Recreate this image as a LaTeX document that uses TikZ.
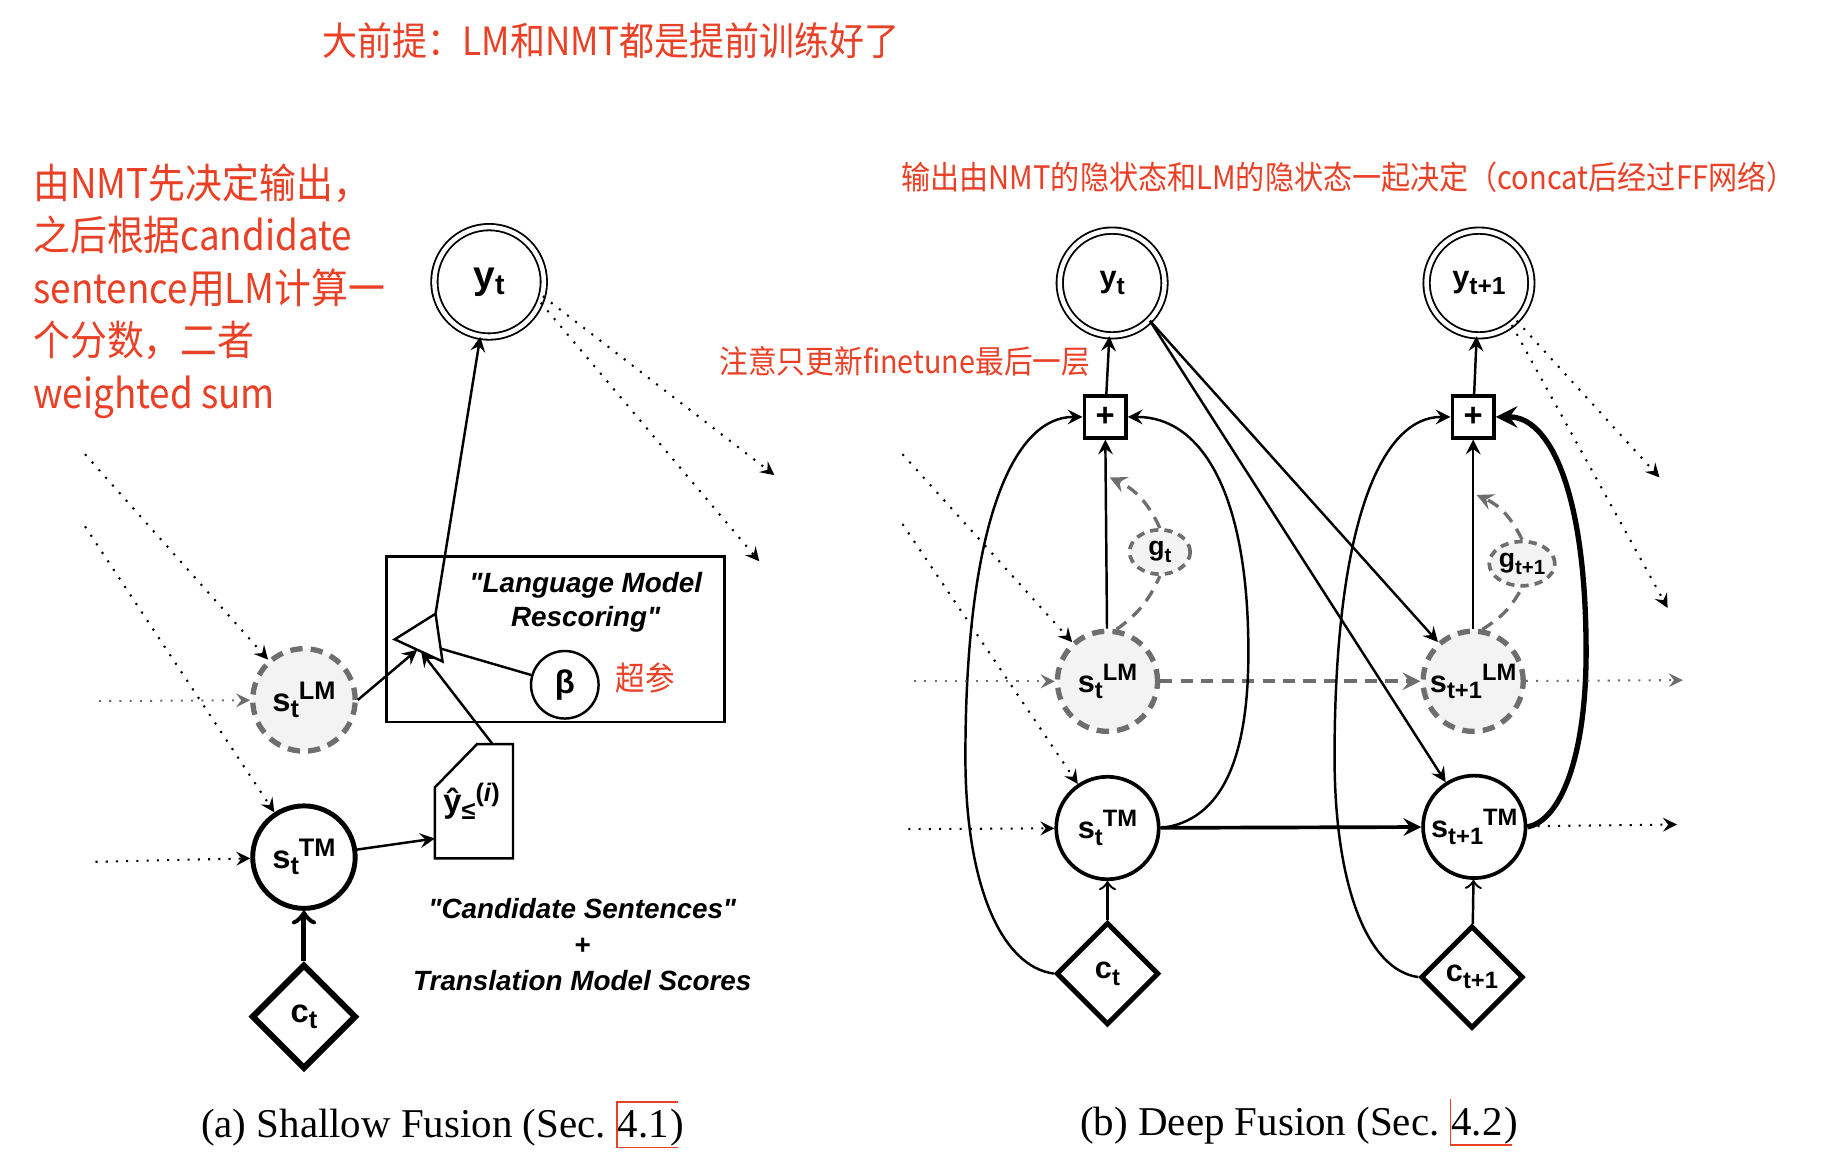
\documentclass[tikz,border=0pt]{standalone}
\usepackage{fontspec}
\setmainfont{Liberation Serif}
\setsansfont{Liberation Sans}
\newfontfamily\cjk[FakeStretch=0.9]{Noto Sans CJK SC}
\usepackage{tikz}
\usetikzlibrary{shapes,calc,positioning,arrows}
\definecolor{notered}{RGB}{233,64,38}
\definecolor{lmgray}{RGB}{110,110,110}
\definecolor{lmfill}{RGB}{243,243,243}
\newcommand{\hid}[4][6.2]{#2\raisebox{-1.6pt}{\fontsize{#1}{#1}\selectfont #3}\raisebox{2.9pt}{\fontsize{#1}{#1}\selectfont #4}}

\begin{document}
\begin{tikzpicture}
     [x=0.1mm, y=-0.1mm, >=stealth,
      every node/.style={font=\sffamily\bfseries\fontsize{8}{8}\selectfont},
      deep/.style={font=\sffamily\bfseries\fontsize{7.5}{7.5}\selectfont},
      outv/.style={circle, draw, double, double distance=1.1pt, line width=0.45pt, minimum size=9.4mm, inner sep=0pt},
      lmv/.style={circle, draw=lmgray, fill=lmfill, line width=1.3pt, dash pattern=on 3pt off 2pt, minimum size=8.6mm, inner sep=0pt},
      tmv/.style={circle, draw, line width=1.2pt, minimum size=8.8mm, inner sep=0pt},
      ctxv/.style={diamond, draw, line width=1.5pt, minimum size=9mm, inner sep=0pt},
      gatev/.style={ellipse, draw=lmgray, fill=lmfill, line width=0.9pt, dash pattern=on 2pt off 1.5pt, minimum width=5.2mm, minimum height=3.8mm, inner sep=0pt, font=\sffamily\bfseries\fontsize{6.5}{6.5}\selectfont},
      sumv/.style={rectangle, draw, line width=0.8pt, minimum size=3.6mm, inner sep=0pt},
      hint/.style={->, dotted, line width=0.5pt},
      lmhint/.style={hint, lmgray},
      lmlink/.style={->, lmgray, line width=0.9pt, dash pattern=on 3pt off 2pt},
      link/.style={->, line width=0.6pt},
      remark/.style={text=notered, inner sep=0pt},
      caption/.style={font=\rmfamily\mdseries\fontsize{10}{12}\selectfont, inner xsep=0pt, inner ysep=0.2em, anchor=base west},
      boldit/.style={font=\sffamily\bfseries\itshape\fontsize{6.8}{8.3}\selectfont, align=center}]
   \path[fill=white, use as bounding box] (0,0) rectangle (1568,1008);

   \node (premise) [remark, font=\cjk\fontsize{9.5}{9.5}\selectfont] at (525,35) {大前提：LM和NMT都是提前训练好了};
   \node (noteA) [remark, font=\cjk\fontsize{10}{12.8}\selectfont, align=left, anchor=north west] at (28,140)
     {由NMT先决定输出，\\之后根据candidate\\sentence用LM计算一\\个分数，二者\\weighted sum};
   \node (noteB) [remark, font=\cjk\fontsize{7.9}{7.9}\selectfont] at (1158,152) {输出由NMT的隐状态和LM的隐状态一起决定（concat后经过FF网络）};
   \node (noteC) [remark, font=\cjk\fontsize{7.8}{7.8}\selectfont] at (777,310) {注意只更新finetune最后一层};

   % (a) shallow fusion
   \node (ytA) [outv, font=\sffamily\bfseries\fontsize{9.5}{9.5}\selectfont] at (420,242) {\hid[7]{y}{t}{}};
   \node (lmA) [lmv, minimum size=8.8mm] at (261,601) {\hid{s}{t}{LM}};
   \node (tmA) [tmv] at (261,736) {\hid{s}{t}{TM}};
   \node (ctA) [ctxv] at (261,873) {\hid{c}{t}{}};
   \node (boxA) [draw, line width=0.6pt, minimum width=29mm, minimum height=14.2mm] at (477,549) {};
   \node (lmr) [boldit] at (503,517) {\textquotedbl Language Model\\Rescoring\textquotedbl};
   \node (beta) [circle, draw, line width=0.6pt, minimum size=5.8mm, inner sep=0pt] at (485,588) {β};
   \node (hyp) [remark, font=\cjk\fontsize{8}{8}\selectfont] at (554,582) {超参};
   \coordinate (triL) at (339,549);
   \coordinate (triT) at (374,527);
   \coordinate (triB) at (380,568);
   \draw[line width=0.6pt] (triL) -- (triT) -- (triB) -- cycle;
   \coordinate (triInA) at ($(triL)!0.47!(triB)$);
   \coordinate (triIn2A) at ($(triL)!0.55!(triB)$);
   \coordinate (triR) at ($(triT)!0.73!(triB)$);
   \coordinate (docNW) at (373.5,676);
   \coordinate (docN) at (409.6,639);
   \coordinate (docNE) at (440.5,639);
   \coordinate (docSE) at (440.5,737);
   \coordinate (docSW) at (373.5,737);
   \draw[line width=0.6pt] (docNW) -- (docN) -- (docNE) -- (docSE) -- (docSW) -- cycle;
   \node (yhat) at (405,688) {\hid{ŷ}{≤}{(\textit{i})}};
   \coordinate (docT) at (423,639);
   \coordinate (docL) at (373.5,720);
   \node (cand) [boldit, font=\sffamily\bfseries\itshape\fontsize{6.8}{8.8}\selectfont] at (500,811) {\textquotedbl Candidate Sentences\textquotedbl\\+\\Translation Model Scores};

   \draw[link] (triT) -- (ytA);
   \draw[link] (lmA.east) -- (triInA);
   \draw[link] (docT) -- (triIn2A);
   \draw[line width=0.6pt] (beta) -- (triR);
   \draw[link] (tmA) -- (docL);
   \draw[-to, line width=1.2pt] (ctA) -- (tmA);

   \coordinate (inA1) at (73,390);
   \coordinate (inA2) at (85,602);
   \coordinate (inA3) at (73,452);
   \coordinate (inA4) at (82,740);
   \coordinate (outA1) at (665,408);
   \coordinate (outA2) at (652,482);
   \draw[hint] (inA1) -- (lmA);
   \draw[lmhint] (inA2) -- (lmA);
   \draw[hint] (inA3) -- (tmA);
   \draw[hint] (inA4) -- (tmA);
   \draw[hint] (ytA.-15) -- (outA1);
   \draw[hint] (ytA.-22) -- (outA2);

   \node (capA1) [caption] at (172,977) {(a) Shallow Fusion (Sec.\ \null};
   \node (secA) [caption] at (capA1.base east) {4.1};
   \node (capA2) [caption] at (secA.base east) {)};
   \draw[notered, line width=0.4pt] ([xshift=2pt]secA.north east) -- (secA.north west) -- (secA.south west) -- ([xshift=2pt]secA.south east);

   % (b) deep fusion
   \node (ytB) [outv, minimum size=9mm, deep] at (955,243) {\hid[6]{y}{t}{}};
   \node (yt1B) [outv, minimum size=9mm, deep] at (1270,243) {\hid[6]{y}{t+1}{}};
   \node (sumB) [sumv] at (949,358) {+};
   \node (sum1B) [sumv] at (1265,358) {+};
   \node (gtB) [gatev] at (996,474) {\hid[5]{g}{t}{}};
   \node (gt1B) [gatev] at (1307,484) {\hid[5]{g}{t+1}{}};
   \node (lmB) [lmv, deep] at (951,585) {\hid[5.8]{s}{t}{LM}};
   \node (lm1B) [lmv, deep] at (1265,585) {\hid[5.8]{s}{t+1}{LM}};
   \node (tmB) [tmv, deep, line width=0.9pt] at (951,711) {\hid[5.8]{s}{t}{TM}};
   \node (tm1B) [tmv, deep, line width=0.9pt] at (1266,710) {\hid[5.8]{s}{t+1}{TM}};
   \node (ctB) [ctxv, deep, minimum size=8.8mm, line width=1.2pt] at (951,836) {\hid[5.8]{c}{t}{}};
   \node (ct1B) [ctxv, deep, minimum size=8.8mm, line width=1.2pt] at (1264,839) {\hid[5.8]{c}{t+1}{}};

   \draw[link] (sumB) -- (ytB);
   \draw[link] (sum1B) -- (yt1B);
   \draw[link] (lmB) -- (sumB);
   \draw[link] (lm1B) -- (sum1B);
   \draw[lmlink] (lmB) -- (lm1B);
   \draw[link, line width=0.9pt] (tmB) -- (tm1B);
   \draw[-to, line width=0.6pt] (ctB) -- (tmB);
   \draw[-to, line width=0.6pt] (ct1B) -- (tm1B);
   \draw[link] (ytB.-45) -- (lm1B);
   \draw[link] (ytB.-45) -- (tm1B);
   \draw[link] (ctB.west) .. controls (860,830) and (829,760) .. (829,650) .. controls (829,450) and (870,358) .. (sumB.west);
   \draw[link] (tmB.east) .. controls (1050,705) and (1072,650) .. (1072,560) .. controls (1072,420) and (1030,358) .. (sumB.east);
   \draw[link] (ct1B.west) .. controls (1174,833) and (1146,760) .. (1146,650) .. controls (1146,450) and (1186,358) .. (sum1B.west);
   \draw[link, line width=1.3pt] (tm1B.east) .. controls (1340,705) and (1362,650) .. (1362,560) .. controls (1362,420) and (1330,358) .. (sum1B.east);

   \coordinate (gateInB) at (953,410);
   \coordinate (gateIn1B) at (1268,425);
   \draw[lmgray, line width=0.8pt, dash pattern=on 3pt off 2pt] (lmB.80) to[bend right=15] (gtB.south);
   \draw[->, lmgray, line width=0.8pt, dash pattern=on 3pt off 2pt] (gtB.north) to[bend right=20] (gateInB);
   \draw[lmgray, line width=0.8pt, dash pattern=on 3pt off 2pt] (lm1B.80) to[bend right=15] (gt1B.south);
   \draw[->, lmgray, line width=0.8pt, dash pattern=on 3pt off 2pt] (gt1B.north) to[bend right=20] (gateIn1B);

   \coordinate (inB1) at (775,390);
   \coordinate (inB2) at (785,585);
   \coordinate (inB3) at (775,450);
   \coordinate (inB4) at (780,712);
   \coordinate (outB1) at (1445,584);
   \coordinate (outB2) at (1440,708);
   \coordinate (outB3) at (1425,410);
   \coordinate (outB4) at (1432,522);
   \draw[hint] (inB1) -- (lmB);
   \draw[lmhint] (inB2) -- (lmB);
   \draw[hint] (inB3) -- (tmB);
   \draw[hint] (inB4) -- (tmB);
   \draw[lmhint] (lm1B) -- (outB1);
   \draw[hint] (tm1B) -- (outB2);
   \draw[hint] (yt1B.-45) -- (outB3);
   \draw[hint] (yt1B.-52) -- (outB4);

   \node (capB1) [caption] at (927,975) {(b) Deep Fusion (Sec.\ \null};
   \node (secB) [caption] at (capB1.base east) {4.2};
   \node (capB2) [caption] at (secB.base east) {)};
   \draw[notered, line width=0.4pt] (secB.north west) -- (secB.south west) -- ([xshift=2pt]secB.south east);
\end{tikzpicture}
\end{document}
